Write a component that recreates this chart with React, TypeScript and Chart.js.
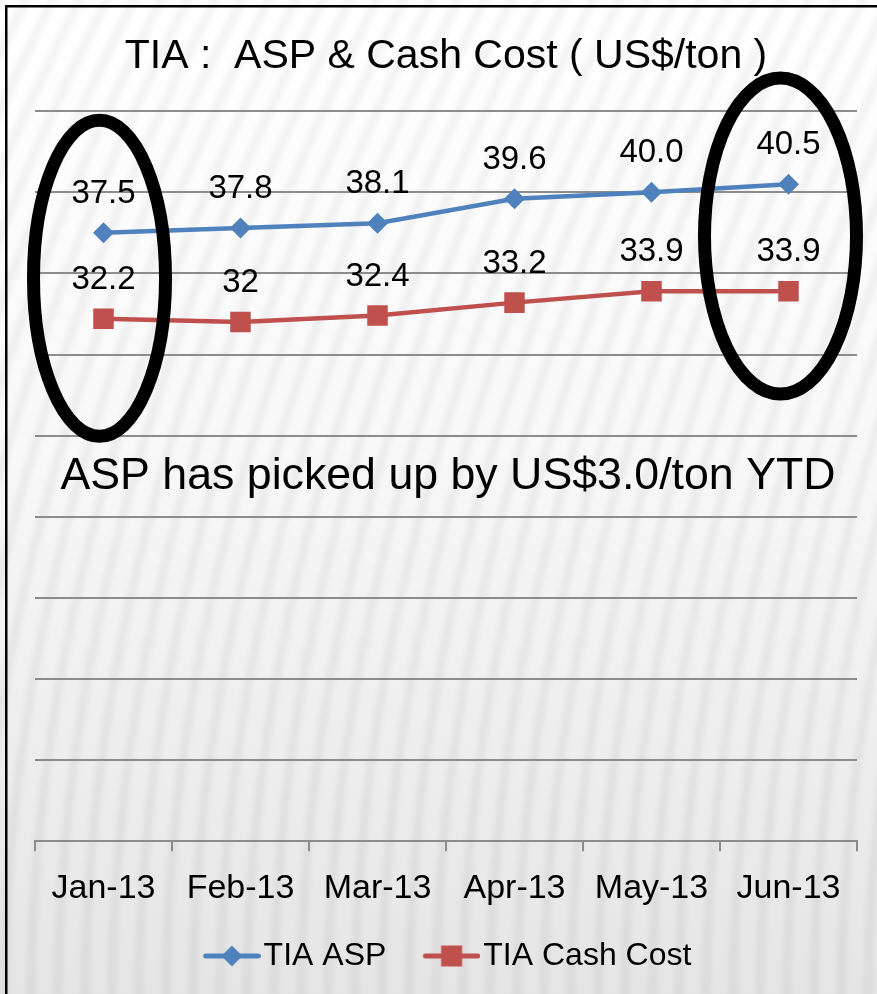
import React, { useEffect, useRef } from "react";
import { Chart, registerables } from "chart.js";

Chart.register(...registerables);

const categories = ["Jan-13", "Feb-13", "Mar-13", "Apr-13", "May-13", "Jun-13"];
const aspValues = [37.5, 37.8, 38.1, 39.6, 40.0, 40.5];
const cashCostValues = [32.2, 32, 32.4, 33.2, 33.9, 33.9];
const aspLabels = aspValues.map((v) => v.toFixed(1));
const cashCostLabels = cashCostValues.map((v) => String(v));
const seriesNames = ["TIA ASP", "TIA Cash Cost"];
const yMin = 0;
const yMax = 45;
const yStep = 5;
const titleText = "TIA :  ASP & Cash Cost ( US$/ton )";
const noteText = "ASP has picked up by US$3.0/ton YTD";

const FONT = "'Liberation Sans', Arial, sans-serif";
const BLUE = "#4F81BD";
const RED = "#C0504D";
const GRID = "#8c8c8c";

function makeLegendImage(color: string, kind: "diamond" | "square") {
  const c = document.createElement("canvas");
  c.width = 97;
  c.height = 26;
  const g = c.getContext("2d")!;
  const cy = 13;
  const x0 = 42;
  const x1 = 94.5;
  g.strokeStyle = color;
  g.lineWidth = 5;
  g.lineCap = "round";
  g.beginPath();
  g.moveTo(x0, cy);
  g.lineTo(x1, cy);
  g.stroke();
  const cx = (x0 + x1) / 2;
  g.fillStyle = color;
  if (kind === "diamond") {
    g.beginPath();
    g.moveTo(cx, cy - 10.5);
    g.lineTo(cx + 10.5, cy);
    g.lineTo(cx, cy + 10.5);
    g.lineTo(cx - 10.5, cy);
    g.closePath();
    g.fill();
  } else {
    g.fillRect(cx - 10.5, cy - 10.5, 21, 21);
  }
  return c;
}

const backgroundPlugin = {
  id: "bgTexture",
  beforeDraw(chart: any) {
    const { ctx, width, height } = chart;
    ctx.save();
    const grad = ctx.createLinearGradient(0, 0, 0, height);
    grad.addColorStop(0, "#ffffff");
    grad.addColorStop(0.45, "#f8f8f8");
    grad.addColorStop(1, "#e5e5e5");
    ctx.fillStyle = grad;
    ctx.fillRect(0, 0, width, height);
    ctx.filter = "blur(2.5px)";
    ctx.strokeStyle = "rgba(0,0,0,0.045)";
    ctx.lineWidth = 9;
    for (let x = -320; x < width + 40; x += 27) {
      ctx.beginPath();
      ctx.moveTo(x, height + 10);
      ctx.quadraticCurveTo(x, height * 0.52, x + 270, -10);
      ctx.stroke();
    }
    ctx.filter = "none";
    ctx.fillStyle = "#000";
    ctx.fillRect(5, 5, width - 5, 2.5);
    ctx.fillRect(5, 5, 2.5, height - 5);
    ctx.restore();
  },
};

const legendShiftPlugin = {
  id: "legendShift",
  afterLayout(chart: any) {
    if (chart.legend) {
      chart.legend.left -= 12;
      chart.legend.right -= 12;
    }
  },
};

const dataLabelPlugin = {
  id: "pointLabels",
  afterDatasetsDraw(chart: any) {
    const { ctx } = chart;
    const labelSets = [aspLabels, cashCostLabels];
    ctx.save();
    ctx.font = `33px ${FONT}`;
    ctx.fillStyle = "#000";
    ctx.textAlign = "center";
    ctx.textBaseline = "alphabetic";
    chart.data.datasets.forEach((_: any, di: number) => {
      const meta = chart.getDatasetMeta(di);
      meta.data.forEach((pt: any, i: number) => {
        ctx.fillText(labelSets[di][i], pt.x, pt.y - 30);
      });
    });
    ctx.restore();
  },
};

const annotationPlugin = {
  id: "annotations",
  afterDraw(chart: any) {
    const { ctx, chartArea } = chart;
    const xs = chart.scales.x;
    const ys = chart.scales.y;
    ctx.save();
    ctx.strokeStyle = "#000";
    ctx.lineWidth = 13;
    // left ellipse around first month
    ctx.beginPath();
    ctx.ellipse(xs.getPixelForValue(0) - 4, ys.getPixelForValue(34.7), 66, 158, 0, 0, Math.PI * 2);
    ctx.stroke();
    // right ellipse around last month
    ctx.beginPath();
    ctx.ellipse(xs.getPixelForValue(categories.length - 1) - 8, ys.getPixelForValue(37.3), 76, 158, 0, 0, Math.PI * 2);
    ctx.stroke();
    // note text
    ctx.font = `44.7px ${FONT}`;
    ctx.fillStyle = "#000";
    ctx.textAlign = "center";
    ctx.textBaseline = "middle";
    ctx.fillText(noteText, (chartArea.left + chartArea.right) / 2 + 2, ys.getPixelForValue(22.5));
    ctx.restore();
  },
};

export default function App() {
  const canvasRef = useRef<HTMLCanvasElement | null>(null);

  useEffect(() => {
    const canvas = canvasRef.current;
    if (!canvas) return;
    const legendImgs = [makeLegendImage(BLUE, "diamond"), makeLegendImage(RED, "square")];

    const chart = new Chart(canvas, {
      type: "line",
      data: {
        labels: categories,
        datasets: [
          {
            label: seriesNames[0],
            data: aspValues,
            borderColor: BLUE,
            backgroundColor: BLUE,
            borderWidth: 4.5,
            pointStyle: "rectRot",
            pointRadius: 10.5,
            pointHoverRadius: 10.5,
            pointBackgroundColor: BLUE,
            pointBorderWidth: 0,
            tension: 0,
            fill: false,
          },
          {
            label: seriesNames[1],
            data: cashCostValues,
            borderColor: RED,
            backgroundColor: RED,
            borderWidth: 4.5,
            pointStyle: "rect",
            pointRadius: 14.5,
            pointHoverRadius: 14.5,
            pointBackgroundColor: RED,
            pointBorderWidth: 0,
            tension: 0,
            fill: false,
          },
        ],
      },
      options: {
        responsive: false,
        animation: false,
        devicePixelRatio: 1,
        layout: { padding: { left: 35, right: 20, top: 0, bottom: 12 } },
        plugins: {
          title: {
            display: true,
            text: titleText,
            color: "#000",
            font: { family: FONT, size: 41, weight: "normal" },
            padding: { top: 32, bottom: 30 },
          },
          legend: {
            display: true,
            position: "bottom",
            labels: {
              usePointStyle: true,
              pointStyleWidth: 71,
              padding: 10,
              color: "#000",
              font: { family: FONT, size: 32 },
              generateLabels: (ch: any) =>
                Chart.defaults.plugins.legend.labels
                  .generateLabels(ch)
                  .map((l: any, i: number) => ({ ...l, pointStyle: legendImgs[i] })),
            },
          },
          tooltip: { enabled: false },
        },
        scales: {
          x: {
            offset: true,
            grid: {
              display: true,
              drawOnChartArea: false,
              drawTicks: true,
              tickLength: 10,
              color: GRID,
              lineWidth: 2,
              offset: true,
            },
            border: { display: true, color: GRID, width: 2 },
            ticks: {
              color: "#000",
              font: { family: FONT, size: 34 },
              padding: 17,
              maxRotation: 0,
              autoSkip: false,
            },
            afterFit: (scale: any) => {
              scale.height += 4;
            },
          },
          y: {
            min: yMin,
            max: yMax,
            ticks: { display: false, stepSize: yStep },
            grid: { color: GRID, lineWidth: 2, drawTicks: false },
            border: { display: false },
          },
        },
      },
      plugins: [backgroundPlugin, legendShiftPlugin, dataLabelPlugin, annotationPlugin],
    });

    return () => chart.destroy();
  }, []);

  return (
    <div style={{ position: "fixed", left: 0, top: 0, width: 877, height: 994 }}>
      <canvas ref={canvasRef} width={877} height={994} style={{ display: "block" }} />
    </div>
  );
}
